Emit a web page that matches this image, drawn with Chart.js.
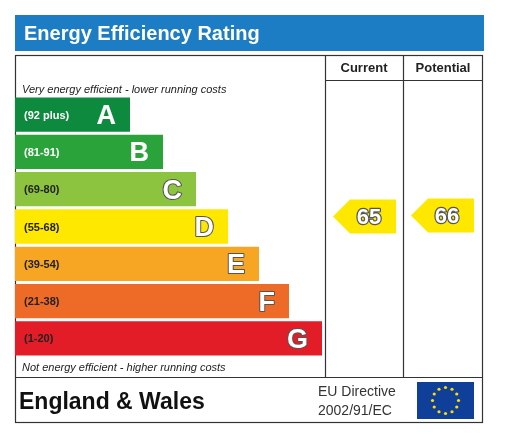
<!DOCTYPE html>
<html>
<head>
<meta charset="utf-8">
<script src="https://cdn.jsdelivr.net/npm/chart.js@4/dist/chart.umd.min.js"></script>
<style>
  html, body { margin: 0; padding: 0; background: #fff; }
  #wrap { width: 523px; height: 437px; }
</style>
</head>
<body>
<div id="wrap"><canvas id="epc" width="523" height="437"></canvas></div>
<script>
const bands = ['A', 'B', 'C', 'D', 'E', 'F', 'G']
const ranges = ['(92 plus)', '(81-91)', '(69-80)', '(55-68)', '(39-54)', '(21-38)', '(1-20)']
const barLengths = [115, 148, 181, 213, 244, 274, 307]
const bandColors = ['#0d8a3e', '#2ba33b', '#8cc43f', '#ffe800', '#f6a623', '#ee6b27', '#e31d27']
const bandMins = [92, 81, 69, 55, 39, 21, 1]
const currentRating = 65
const potentialRating = 66

function bandIndex(v) {
  for (let i = 0; i < bandMins.length; i++) if (v >= bandMins[i]) return i
  return bandMins.length - 1
}

function outlinedText(ctx, text, x, y, font, fill, stroke, lw) {
  ctx.font = font
  ctx.lineJoin = 'round'
  ctx.lineWidth = lw
  ctx.strokeStyle = stroke
  ctx.strokeText(text, x, y)
  ctx.fillStyle = fill
  ctx.fillText(text, x, y)
}

function arrow(ctx, xl, xr, yc, h, color) {
  ctx.beginPath()
  ctx.moveTo(xl, yc)
  ctx.lineTo(xl + h / 2, yc - h / 2)
  ctx.lineTo(xr, yc - h / 2)
  ctx.lineTo(xr, yc + h / 2)
  ctx.lineTo(xl + h / 2, yc + h / 2)
  ctx.closePath()
  ctx.fillStyle = color
  ctx.fill()
}

const frame = {
  id: 'frame',
  beforeDatasetsDraw(chart) {
    const ctx = chart.ctx
    ctx.save()
    // title bar
    ctx.fillStyle = '#1d7dc4'
    ctx.fillRect(15, 15, 469, 36)
    ctx.fillStyle = '#fff'
    ctx.font = 'bold 20px "Liberation Sans", Arial, sans-serif'
    ctx.textBaseline = 'middle'
    ctx.fillText('Energy Efficiency Rating', 24, 34)
    // table
    ctx.strokeStyle = '#333'
    ctx.lineWidth = 1.2
    ctx.strokeRect(15.5, 55.5, 467, 367)
    ctx.beginPath()
    ctx.moveTo(325.5, 55); ctx.lineTo(325.5, 377)
    ctx.moveTo(403.5, 55); ctx.lineTo(403.5, 377)
    ctx.moveTo(325, 80.5); ctx.lineTo(483, 80.5)
    ctx.moveTo(15, 377.5); ctx.lineTo(483, 377.5)
    ctx.stroke()
    ctx.fillStyle = '#222'
    ctx.font = 'bold 13px "Liberation Sans", Arial, sans-serif'
    ctx.textAlign = 'center'
    ctx.fillText('Current', 364, 68)
    ctx.fillText('Potential', 443, 68)
    ctx.textAlign = 'left'
    ctx.font = 'italic 11px "Liberation Sans", Arial, sans-serif'
    ctx.fillText('Very energy efficient - lower running costs', 22, 90)
    ctx.fillText('Not energy efficient - higher running costs', 22, 368)
    ctx.font = 'bold 23px "Liberation Sans", Arial, sans-serif'
    ctx.fillStyle = '#111'
    ctx.fillText('England & Wales', 19, 403)
    ctx.font = '14px "Liberation Sans", Arial, sans-serif'
    ctx.fillStyle = '#333'
    ctx.fillText('EU Directive', 318, 392)
    ctx.fillText('2002/91/EC', 318, 411)
    // EU flag
    ctx.fillStyle = '#103f9a'
    ctx.fillRect(417, 382, 57, 37)
    ctx.fillStyle = '#ffdd00'
    for (let i = 0; i < 12; i++) {
      const a = i * Math.PI / 6
      ctx.beginPath()
      ctx.arc(445.5 + 13 * Math.cos(a), 400.5 + 13 * Math.sin(a), 1.6, 0, Math.PI * 2)
      ctx.fill()
    }
    ctx.restore()
  },
  afterDatasetsDraw(chart) {
    const ctx = chart.ctx
    const meta = chart.getDatasetMeta(0)
    ctx.save()
    ctx.textBaseline = 'middle'
    meta.data.forEach((bar, i) => {
      const y = bar.y
      ctx.textAlign = 'left'
      ctx.fillStyle = i === 0 || i === 1 ? '#fff' : '#222'
      ctx.font = 'bold 11px "Liberation Sans", Arial, sans-serif'
      ctx.fillText(ranges[i], 24, y + 1)
      ctx.textAlign = 'right'
      outlinedText(ctx, bands[i], bar.x - 14, y + 2, 'bold 27px "Liberation Sans", Arial, sans-serif', '#fff', i < 2 ? '#fff' : '#555', i < 2 ? 0.1 : 2)
    })
    const ys = chart.scales.y
    const yc = ys.getPixelForValue(bandIndex(currentRating))
    const yp = ys.getPixelForValue(bandIndex(potentialRating))
    arrow(ctx, 333, 396, yc - 10, 34, bandColors[bandIndex(currentRating)])
    arrow(ctx, 411, 474, yp - 11, 34, bandColors[bandIndex(potentialRating)])
    ctx.textAlign = 'center'
    outlinedText(ctx, String(currentRating), 369, yc - 9, 'bold 22px "Liberation Sans", Arial, sans-serif', '#fff', '#555', 2.5)
    outlinedText(ctx, String(potentialRating), 447, yp - 10, 'bold 22px "Liberation Sans", Arial, sans-serif', '#fff', '#555', 2.5)
    ctx.restore()
  }
}

new Chart(document.getElementById('epc').getContext('2d'), {
  type: 'bar',
  data: {
    labels: bands,
    datasets: [{
      data: barLengths,
      backgroundColor: bandColors,
      borderWidth: 0,
      barPercentage: 0.92,
      categoryPercentage: 1
    }]
  },
  options: {
    indexAxis: 'y',
    responsive: false,
    animation: false,
    layout: { padding: { left: 15, right: 201, top: 96, bottom: 80 } },
    plugins: { legend: { display: false }, tooltip: { enabled: false } },
    scales: {
      x: { display: false, min: 0, max: 307 },
      y: { display: false }
    }
  },
  plugins: [frame]
})
</script>
</body>
</html>
